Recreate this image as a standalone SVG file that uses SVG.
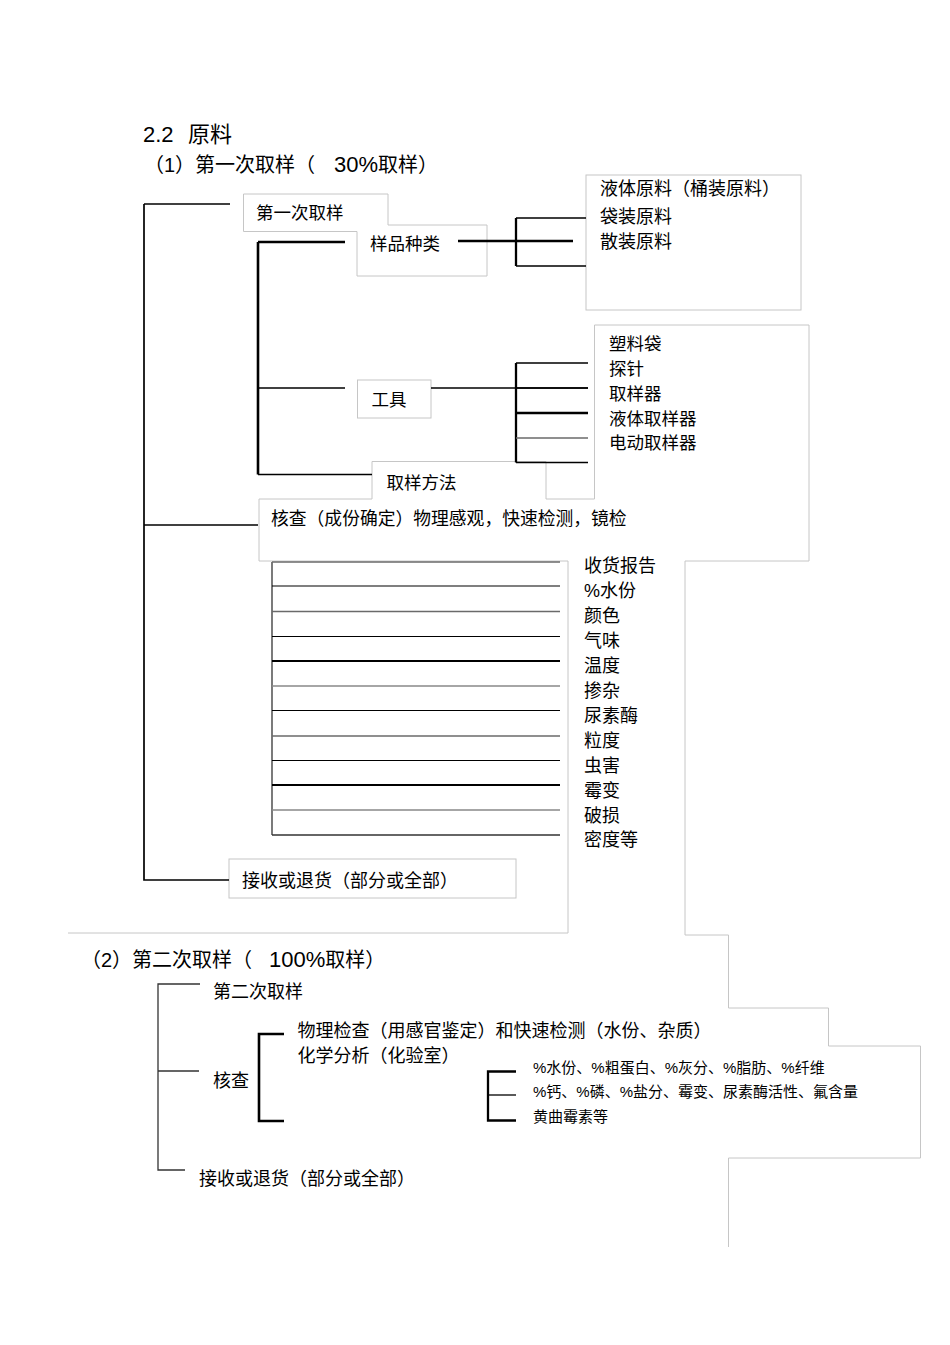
<svg xmlns="http://www.w3.org/2000/svg" width="950" height="1345" viewBox="0 0 950 1345">
<style>
text{font-family:"Liberation Sans","Noto Sans CJK SC",sans-serif;fill:#000;font-size:17.5px}
.t20{font-size:20px}
.t22{font-size:22px}
.t18{font-size:18px}
.t17{font-size:17.8px}
.t15{font-size:15px}
.frame{fill:none;stroke:#c6c6c6;stroke-width:1}
.ln{fill:none;stroke:#000;stroke-width:1.3}
.thk{fill:none;stroke:#000;stroke-width:2.3}
.gry{fill:none;stroke:#6a6a6a;stroke-width:1.4}
.dk{fill:none;stroke:#333;stroke-width:1.3}
</style>
<rect width="950" height="1345" fill="#fff"/>

<g id="headings">
<text class="t22" x="143" y="142">2.2 <tspan x="188">原料</tspan></text>
<text class="t20" x="144" y="172">（1）第一次取样（<tspan x="334" style="font-size:22px">30%</tspan>取样）</text>
<text class="t20" x="81" y="967">（2）第二次取样（<tspan x="269" style="font-size:22px">100%</tspan>取样）</text>
</g>

<g id="frames">
<path class="frame" d="M243.5,194 H388 V225 H487 V276 H357 V231.5 H243.5 Z"/>
<rect class="frame" x="586" y="175" width="215" height="135"/>
<rect class="frame" x="357.5" y="380" width="73.5" height="38"/>
<path class="frame" d="M685,561 H809 V325 H594.5 V499 H546 V461.5 H372 V499 H259 V561 H568"/>
<path class="frame" d="M568,561 V933 H68"/>
<path class="frame" d="M685,561 V935 H728.5 V1008 H828.5 V1046 H920.5 V1158 H728.5 V1247"/>
<rect class="frame" x="229" y="859" width="287" height="39"/>
</g>

<g id="connectors">
<path class="ln" d="M144,204 H230"/>
<path class="thk" style="stroke-width:1.7" d="M144,204 V880 H229"/>
<path class="ln" d="M144,525 H258"/>
<path class="thk" style="stroke-width:2.6" d="M258,242 V474.5"/>
<path class="thk" d="M258,242 H345"/>
<path class="ln" d="M258,388 H345"/>
<path class="ln" style="stroke-width:1.6" d="M258,474.5 H372"/>
<path class="thk" d="M458,241 H573"/>
<path class="thk" d="M516,218 V266"/>
<path class="ln" d="M516,218 H586 M516,266 H586"/>
<path class="ln" d="M431,388 H588"/>
<path class="thk" d="M516,363 V462.5"/>
<path class="ln" d="M516,363 H588 M516,388 H588"/>
<path class="thk" d="M516,413 H588"/>
<path class="gry" d="M516,438 H588"/>
<path class="ln" style="stroke-width:1.6" d="M516,462.5 H588"/>
<path class="dk" d="M272,562 V835"/>
<path class="gry" d="M272,562 H560"/>
<path class="ln" style="stroke-width:1.2" d="M272,586 H560"/>
<path class="gry" d="M272,611.5 H560"/>
<path class="ln" style="stroke-width:1.2" d="M272,636.5 H560"/>
<path class="thk" style="stroke-width:2" d="M272,661 H560"/>
<path class="gry" style="stroke:#888;stroke-width:1.6" d="M272,686 H560"/>
<path class="ln" style="stroke-width:1.2" d="M272,710.5 H560"/>
<path class="gry" d="M272,736 H560"/>
<path class="ln" style="stroke-width:1.2" d="M272,760.5 H560"/>
<path class="thk" style="stroke-width:2" d="M272,785 H560"/>
<path class="gry" style="stroke:#888;stroke-width:1.6" d="M272,810 H560"/>
<path class="dk" style="stroke-width:1.5" d="M272,835 H560"/>
<path class="dk" d="M200,984 H158 V1170 H185 M158,1071 H199"/>
<path class="thk" style="stroke-width:2.6" d="M284,1034 H259 V1121 H284"/>
<path class="thk" d="M516,1071.5 H488 V1120.5 H516"/>
<path class="ln" d="M488,1095 H516"/>
</g>

<g id="node-first">
<text x="256" y="218.5">第一次取样</text>
</g>
<g id="node-kinds">
<text x="370" y="249.5">样品种类</text>
</g>
<g id="node-kinds-list">
<text class="t18" x="600" y="194.5">液体原料（桶装原料）</text>
<text class="t18" x="600" y="223">袋装原料</text>
<text class="t18" x="600" y="247.5">散装原料</text>
</g>
<g id="node-tools">
<text x="371.5" y="406.3">工具</text>
</g>
<g id="node-tools-list">
<text x="609" y="349.8">塑料袋</text>
<text x="609" y="374.8">探针</text>
<text x="609" y="399.8">取样器</text>
<text x="609" y="424.8">液体取样器</text>
<text x="609" y="449.2">电动取样器</text>
</g>
<g id="node-method">
<text x="386.5" y="488.8">取样方法</text>
</g>
<g id="node-check1">
<text class="t17" x="271" y="525.4">核查（成份确定）物理感观，快速检测，镜检</text>
</g>
<g id="node-check1-list">
<text class="t18" x="584" y="571.5">收货报告</text>
<text class="t18" x="584" y="597">%水份</text>
<text class="t18" x="584" y="622">颜色</text>
<text class="t18" x="584" y="647">气味</text>
<text class="t18" x="584" y="671.5">温度</text>
<text class="t18" x="584" y="696.5">掺杂</text>
<text class="t18" x="584" y="722">尿素酶</text>
<text class="t18" x="584" y="746.5">粒度</text>
<text class="t18" x="584" y="771.5">虫害</text>
<text class="t18" x="584" y="796.5">霉变</text>
<text class="t18" x="584" y="821.5">破损</text>
<text class="t18" x="584" y="846">密度等</text>
</g>
<g id="node-accept1">
<text class="t18" x="242" y="886.5">接收或退货（部分或全部）</text>
</g>

<g id="node-second">
<text class="t18" x="213" y="998.2">第二次取样</text>
</g>
<g id="node-check2">
<text class="t18" x="213" y="1086.5">核查</text>
</g>
<g id="node-physical">
<text class="t18" x="297.5" y="1037.2">物理检查（用感官鉴定）和快速检测（水份、杂质）</text>
</g>
<g id="node-chemical">
<text class="t18" x="297.5" y="1061.5">化学分析（化验室）</text>
</g>
<g id="node-chemical-list">
<text class="t15" x="533" y="1073">%水份、%粗蛋白、%灰分、%脂肪、%纤维</text>
<text class="t15" x="533" y="1097">%钙、%磷、%盐分、霉变、尿素酶活性、氟含量</text>
<text class="t15" x="533" y="1122.3">黄曲霉素等</text>
</g>
<g id="node-accept2">
<text class="t18" x="199" y="1184.5">接收或退货（部分或全部）</text>
</g>
</svg>
